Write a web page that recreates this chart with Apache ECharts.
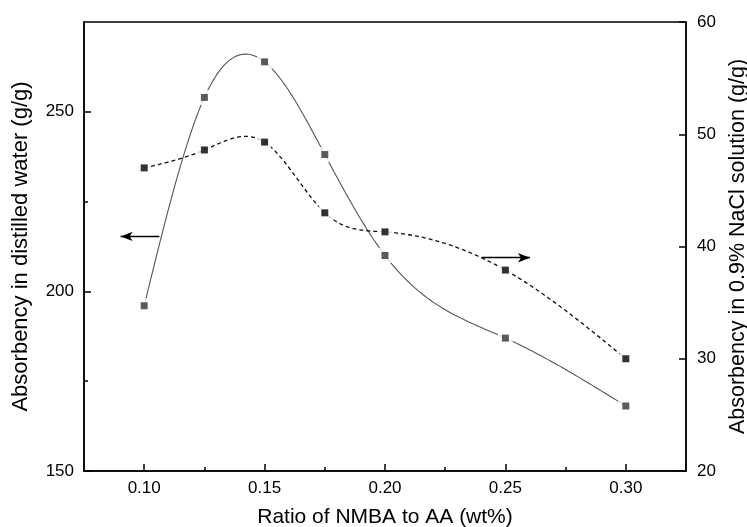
<!DOCTYPE html>
<html>
<head>
<meta charset="utf-8">
<script src="https://cdn.jsdelivr.net/npm/echarts@6/dist/echarts.min.js"></script>
<style>
html,body{margin:0;padding:0;background:#fff;}
#chart{width:747px;height:527px;}
</style>
</head>
<body>
<div id="chart"></div>
<script>
// ---- data ----
const ratio = [0.10, 0.125, 0.15, 0.175, 0.20, 0.25, 0.30];
const waterAbs = [196.0, 254.0, 263.9, 238.1, 210.0, 187.0, 168.1];
const naclAbs = [47.0, 48.6, 49.3, 43.0, 41.3, 37.9, 30.0];
const xMajorTicks = [0.10, 0.15, 0.20, 0.25, 0.30];
const xMinorTicks = [0.125, 0.175, 0.225, 0.275];
const yLeftMajorTicks = [150, 200, 250];
const yLeftMinorTicks = [175, 225];
const yRightTicks = [20, 30, 40, 50, 60];
// annotation arrows (data coordinates)
const leftArrow = [[0.1063, 215.3], [0.0902, 215.3]];
const rightArrow = [[0.2402, 39.0], [0.2602, 39.0]];

const pairs = (xs, ys) => xs.map((x, i) => [x, ys[i]]);
const FONT = "'Liberation Sans', Arial, sans-serif";
const lbl = { color: '#000', fontSize: 17, fontFamily: FONT };
const nameStyleX = { color: '#000', fontSize: 21, fontFamily: FONT };
const nameStyleY = { color: '#000', fontSize: 22, fontFamily: FONT };
const nameStyleY2 = { color: '#000', fontSize: 21.5, fontFamily: FONT };

// natural cubic spline (second derivatives) through the data points
function splineM(xs, ys) {
  const n = xs.length, M = new Array(n).fill(0);
  const a = [], b = [], c = [], d = [];
  for (let i = 1; i < n - 1; i++) {
    const h0 = xs[i] - xs[i - 1], h1 = xs[i + 1] - xs[i];
    a.push(h0); b.push(2 * (h0 + h1)); c.push(h1);
    d.push(6 * ((ys[i + 1] - ys[i]) / h1 - (ys[i] - ys[i - 1]) / h0));
  }
  const m = b.length;
  for (let i = 1; i < m; i++) {
    const w = a[i] / b[i - 1];
    b[i] -= w * c[i - 1]; d[i] -= w * d[i - 1];
  }
  const sol = new Array(m);
  for (let i = m - 1; i >= 0; i--) sol[i] = (d[i] - (i < m - 1 ? c[i] * sol[i + 1] : 0)) / b[i];
  for (let i = 0; i < m; i++) M[i + 1] = sol[i];
  return M;
}
function splineEval(xs, ys, M, i, x) {
  const h = xs[i + 1] - xs[i], A = xs[i + 1] - x, B = x - xs[i];
  return M[i] * A * A * A / (6 * h) + M[i + 1] * B * B * B / (6 * h)
    + (ys[i] / h - M[i] * h / 6) * A + (ys[i + 1] / h - M[i + 1] * h / 6) * B;
}
function splineRenderer(xs, ys, style) {
  const M = splineM(xs, ys);
  return function (params, api) {
    if (params.dataIndex !== 0) return { type: 'group', children: [] };
    const pts = [];
    for (let i = 0; i < xs.length - 1; i++) {
      const steps = 40;
      for (let s = (i === 0 ? 0 : 1); s <= steps; s++) {
        const x = xs[i] + (xs[i + 1] - xs[i]) * s / steps;
        pts.push(api.coord([x, splineEval(xs, ys, M, i, x)]));
      }
    }
    return { type: 'polyline', shape: { points: pts }, style: Object.assign({ fill: null }, style), silent: true };
  };
}

const chart = echarts.init(document.getElementById('chart'), null, { renderer: 'canvas' });
chart.setOption({
  animation: false,
  backgroundColor: '#fff',
  grid: {
    left: 84, right: 61, top: 22, bottom: 56, containLabel: false, outerBoundsMode: 'none',
    show: true, borderColor: '#000', borderWidth: 1.5, backgroundColor: 'transparent'
  },
  xAxis: [
    {
      type: 'value', min: 0.075, max: 0.325, position: 'bottom',
      name: 'Ratio of NMBA to AA (wt%)', nameLocation: 'middle', nameGap: 36, nameTextStyle: nameStyleX,
      axisLine: { show: true, lineStyle: { color: '#000', width: 1.5 } },
      axisTick: { show: true, inside: true, length: 7, customValues: xMajorTicks, lineStyle: { color: '#000', width: 1.5 } },
      axisLabel: { show: true, margin: 9, customValues: xMajorTicks, formatter: v => v.toFixed(2), ...lbl },
      splitLine: { show: false }
    },
    {
      type: 'value', min: 0.075, max: 0.325, position: 'bottom',
      axisLine: { show: false },
      axisTick: { show: true, inside: true, length: 4, customValues: xMinorTicks, lineStyle: { color: '#000', width: 1.5 } },
      axisLabel: { show: false },
      splitLine: { show: false }
    }
  ],
  yAxis: [
    {
      type: 'value', min: 150, max: 275, position: 'left',
      name: 'Absorbency in distilled water (g/g)', nameLocation: 'middle', nameGap: 52, nameTextStyle: nameStyleY,
      axisLine: { show: true, lineStyle: { color: '#000', width: 1.5 } },
      axisTick: { show: true, inside: true, length: 7, customValues: yLeftMajorTicks, lineStyle: { color: '#000', width: 1.5 } },
      axisLabel: { show: true, margin: 10, customValues: yLeftMajorTicks, ...lbl },
      splitLine: { show: false }
    },
    {
      type: 'value', min: 20, max: 60, position: 'right',
      name: 'Absorbency in 0.9% NaCl solution (g/g)', nameLocation: 'middle', nameGap: 37, nameTextStyle: nameStyleY2,
      axisLine: { show: true, lineStyle: { color: '#000', width: 1.5 } },
      axisTick: { show: true, inside: true, length: 7, customValues: yRightTicks, lineStyle: { color: '#000', width: 1.5 } },
      axisLabel: { show: true, margin: 11, customValues: yRightTicks, ...lbl },
      splitLine: { show: false }
    },
    {
      type: 'value', min: 150, max: 275, position: 'left',
      axisLine: { show: false },
      axisTick: { show: true, inside: true, length: 4, customValues: yLeftMinorTicks, lineStyle: { color: '#000', width: 1.5 } },
      axisLabel: { show: false },
      splitLine: { show: false }
    }
  ],
  series: [
    {
      type: 'custom', xAxisIndex: 0, yAxisIndex: 0, data: pairs(ratio, waterAbs),
      encode: { x: 0, y: 1 }, silent: true, clip: true,
      renderItem: splineRenderer(ratio, waterAbs, { stroke: '#555', lineWidth: 1.1 })
    },
    {
      type: 'custom', xAxisIndex: 0, yAxisIndex: 1, data: pairs(ratio, naclAbs),
      encode: { x: 0, y: 1 }, silent: true, clip: true,
      renderItem: splineRenderer(ratio, naclAbs, { stroke: '#111', lineWidth: 1.3, lineDash: [4, 3] })
    },
    {
      type: 'scatter', xAxisIndex: 0, yAxisIndex: 0, data: pairs(ratio, waterAbs),
      symbol: 'rect', symbolSize: 15, itemStyle: { color: '#fff' }, silent: true
    },
    {
      type: 'scatter', xAxisIndex: 0, yAxisIndex: 1, data: pairs(ratio, naclAbs),
      symbol: 'rect', symbolSize: 13, itemStyle: { color: '#fff' }, silent: true
    },
    {
      type: 'scatter', xAxisIndex: 0, yAxisIndex: 0, data: pairs(ratio, waterAbs),
      symbol: 'rect', symbolSize: 7, itemStyle: { color: '#333' }, silent: true,
      markLine: {
        silent: true, symbol: ['none', 'arrow'], symbolSize: [7, 12], label: { show: false },
        lineStyle: { color: '#000', width: 1.3, type: 'solid' },
        data: [[{ coord: leftArrow[0] }, { coord: leftArrow[1] }]]
      }
    },
    {
      type: 'scatter', xAxisIndex: 0, yAxisIndex: 1, data: pairs(ratio, naclAbs),
      symbol: 'rect', symbolSize: 7, itemStyle: { color: '#000' }, silent: true,
      markLine: {
        silent: true, symbol: ['none', 'arrow'], symbolSize: [7, 12], label: { show: false },
        lineStyle: { color: '#000', width: 1.3, type: 'solid' },
        data: [[{ coord: rightArrow[0] }, { coord: rightArrow[1] }]]
      }
    }
  ]
});
</script>
</body>
</html>
